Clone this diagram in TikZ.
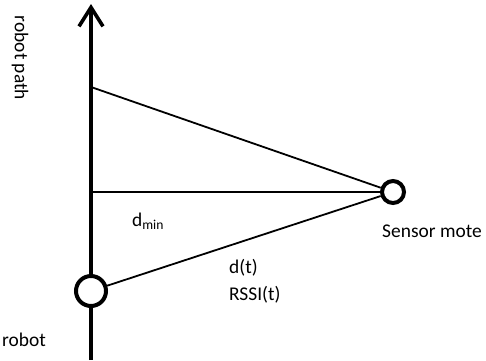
\documentclass[tikz,border=0pt]{standalone}
\usepackage{fontspec}
\setmainfont{Carlito}
\usetikzlibrary{positioning, arrows.meta}

\begin{document}
\begin{tikzpicture}[x=1bp, y=-1bp]
    \tikzset{
      mote/.style={
        circle, draw=black, fill=white, line width=4bp,
        inner sep=0pt
      },
      lbl/.style={font=\fontsize{19.5}{27}\selectfont, inner sep=1pt},
      ray/.style={line width=1.8bp}
    }
    \useasboundingbox (0,0) rectangle (486,360);

    % path and points on it
    \coordinate (start) at (91,360);
    \coordinate (goal) at (91,4);
    \coordinate (near) at (91,87);
    \coordinate (foot) at (91,192);
    \draw[line width=4bp, -{Straight Barb[length=19bp,width=24bp,line width=3.6bp]}] (start) -- (goal);

    % sensor and robot
    \node[mote, minimum size=22bp] (sensor) at (393,192) {};
    \node[mote, minimum size=30bp] (robot) at (91,291) {};

    % distances
    \draw[ray] (near) -- (sensor);
    \draw[ray] (foot) -- (sensor);
    \draw[ray] (robot) -- (sensor);

    % labels
    \node[lbl, rotate=-90] (pathlbl) at (20,58) {robot path};
    \node[lbl] (dminlbl) at (148,221) {d\textsubscript{min}};
    \node[lbl] (sensorlbl) at (432,231) {Sensor mote};
    \node[lbl, align=left, anchor=north west] (rssilbl) at (228,258) {d(t)\\RSSI(t)};
    \node[lbl] (robotlbl) at (24,340) {robot};
\end{tikzpicture}
\end{document}
